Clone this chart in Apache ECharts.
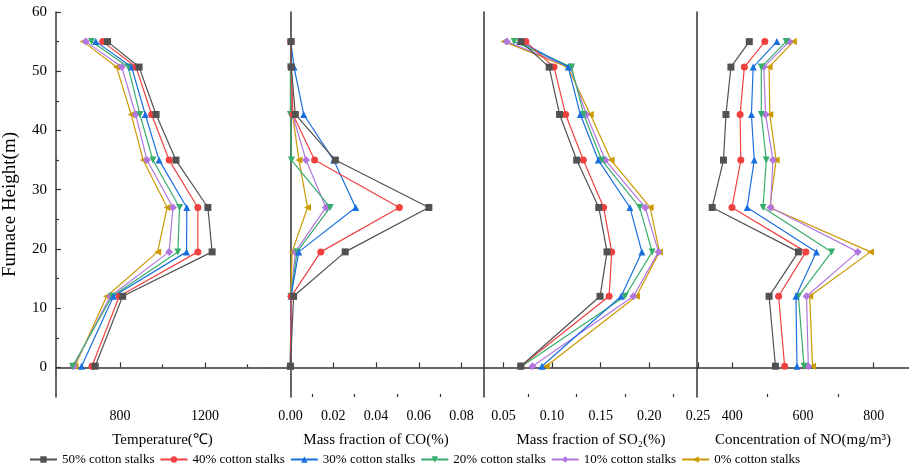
<!DOCTYPE html>
<html>
<head>
<meta charset="utf-8">
<script src="https://cdn.jsdelivr.net/npm/echarts@6/dist/echarts.min.js"></script>
<style>
  html, body { margin: 0; padding: 0; background: #fff; }
  #chart { width: 909px; height: 468px; }
</style>
</head>
<body>
<div id="chart"></div>
<script>
// 各测点高度 (m)
const heights = [55, 50.7, 42.7, 35, 27, 19.5, 12, 0.2];
const seriesNames = ['50% cotton stalks', '40% cotton stalks', '30% cotton stalks',
  '20% cotton stalks', '10% cotton stalks', '0% cotton stalks'];

// 每行一个工况, 顺序同 heights
const temperature = [
  [742, 890, 970, 1063, 1213, 1233, 813, 684],
  [719, 876, 949, 1031, 1166, 1166, 797, 669],
  [687, 855, 919, 984, 1114, 1113, 770, 620],
  [667, 839, 894, 955, 1080, 1072, 763, 578],
  [640, 809, 874, 927, 1049, 1031, 755, 583],
  [628, 784, 853, 909, 1022, 977, 738, 589]
];
const coFraction = [
  [0.0003, 0.0004, 0.0023, 0.0210, 0.0647, 0.0256, 0.0015, 0],
  [0.0002, 0.0003, 0.0012, 0.0113, 0.0509, 0.0142, 0.0004, 0],
  [0.0002, 0.0017, 0.0062, 0.0202, 0.0305, 0.0039, 0.0003, 0],
  [0.0001, 0.0000, 0.0000, 0.0005, 0.0186, 0.0031, 0.0002, 0],
  [0.0002, 0.0003, 0.0010, 0.0073, 0.0166, 0.0023, 0.0003, 0],
  [0.0002, 0.0003, 0.0010, 0.0040, 0.0080, 0.0008, 0.0002, 0]
];
const so2Fraction = [
  [0.068, 0.097, 0.1077, 0.1253, 0.148, 0.1565, 0.1493, 0.0678],
  [0.073, 0.102, 0.1139, 0.1321, 0.153, 0.1613, 0.1586, 0.0678],
  [0.067, 0.1166, 0.129, 0.1475, 0.180, 0.1923, 0.171, 0.0895],
  [0.061, 0.120, 0.1325, 0.151, 0.190, 0.2029, 0.175, 0.0689],
  [0.0534, 0.1187, 0.1352, 0.1547, 0.1957, 0.2094, 0.1836, 0.0799],
  [0.0506, 0.116, 0.1393, 0.1606, 0.2008, 0.2104, 0.1867, 0.0939]
];
const noConc = [
  [448, 396, 382, 375, 343, 587, 504, 522],
  [492, 434, 422, 424, 399, 608, 531, 548],
  [526, 459, 454, 462, 442, 638, 580, 583],
  [552, 482, 482, 496, 487, 681, 587, 603],
  [561, 489, 494, 515, 508, 755, 610, 615],
  [573, 504, 506, 524, 506, 791, 619, 627]
];

// 刻度
const heightTicks = [0, 10, 20, 30, 40, 50, 60];
const heightMinorTicks = [5, 15, 25, 35, 45, 55];
const tempTicks = [800, 1200];
const tempMinorTicks = [600, 1000, 1400];
const coTicks = [0, 0.02, 0.04, 0.06, 0.08];
const coMinorTicks = [0.01, 0.03, 0.05, 0.07];
const so2Ticks = [0.05, 0.10, 0.15, 0.20, 0.25];
const so2MinorTicks = [0.075, 0.125, 0.175, 0.225];
const noTicks = [400, 600, 800];
const noMinorTicks = [500, 700];

const colors = ['#515151', '#F14040', '#1A6FDF', '#37AD6B', '#B177DE', '#CC9900'];
const symbols = ['rect', 'circle', 'triangle', 'triangle', 'diamond', 'triangle'];
const symbolRotates = [0, 0, 0, 180, 0, 90];

const font = 'Liberation Serif, Times New Roman, serif';
const axisColor = '#333';

const panels = [
  { data: temperature, min: 500, max: 1500, ticks: tempTicks, minor: tempMinorTicks,
    name: 'Temperature(℃)', fmt: (v) => String(v) },
  { data: coFraction, min: -0.01, max: 0.09, ticks: coTicks, minor: coMinorTicks,
    name: 'Mass fraction of CO(%)', fmt: (v) => v.toFixed(2) },
  { data: so2Fraction, min: 0.03, max: 0.25, ticks: so2Ticks, minor: so2MinorTicks,
    name: 'Mass fraction of SO₂(%)', fmt: (v) => v.toFixed(2) },
  { data: noConc, min: 300, max: 900, ticks: noTicks, minor: noMinorTicks,
    name: 'Concentration of NO(mg/m³)', fmt: (v) => String(v) }
];

const gridLefts = [55, 269, 484, 697];
const gridWidth = 214;

const grid = gridLefts.map((l) => ({ left: l, top: 12, width: gridWidth, height: 385 }));

const xAxis = [];
const yAxis = [];
const series = [];

panels.forEach((p, i) => {
  // 主刻度轴
  xAxis.push({
    type: 'value', gridIndex: i, position: 'bottom', min: p.min, max: p.max,
    name: p.name, nameLocation: 'middle', nameGap: 36,
    nameTextStyle: { fontFamily: font, fontSize: 15, color: '#000' },
    axisLine: { show: true, lineStyle: { color: axisColor, width: 1.5 } },
    axisTick: { show: true, inside: true, length: 5, customValues: p.ticks,
      lineStyle: { color: axisColor, width: 1.2 } },
    axisLabel: { customValues: p.ticks, formatter: p.fmt, margin: 12,
      fontFamily: font, fontSize: 14, color: '#000' },
    splitLine: { show: false }
  });
  // 次刻度轴
  xAxis.push({
    type: 'value', gridIndex: i, position: 'bottom', min: p.min, max: p.max,
    axisLine: { show: false },
    axisTick: { show: true, inside: true, length: 3, customValues: p.minor,
      lineStyle: { color: axisColor, width: 1.2 } },
    axisLabel: { show: false },
    splitLine: { show: false }
  });
  yAxis.push({
    type: 'value', gridIndex: i, position: 'left', min: -5, max: 60,
    name: i === 0 ? 'Furnace Height(m)' : '',
    nameLocation: 'middle', nameGap: 36,
    nameTextStyle: { fontFamily: font, fontSize: 19, color: '#000' },
    axisLine: { show: true, lineStyle: { color: axisColor, width: 1.5 } },
    axisTick: { show: i === 0, inside: true, length: 5, customValues: heightTicks,
      lineStyle: { color: axisColor, width: 1.2 } },
    axisLabel: { show: i === 0, customValues: heightTicks, margin: 9,
      fontFamily: font, fontSize: 15, color: '#000' },
    splitLine: { show: false }
  });
  p.data.forEach((vals, s) => {
    series.push({
      name: seriesNames[s],
      type: 'line',
      xAxisIndex: i * 2,
      yAxisIndex: i,
      data: vals.map((v, k) => [v, heights[k]]),
      symbol: symbols[s],
      symbolRotate: symbolRotates[s],
      symbolSize: s === 4 ? 8 : 7,
      showAllSymbol: true,
      lineStyle: { width: 1.2, color: colors[s] },
      itemStyle: { color: colors[s] },
      z: 10 - s
    });
  });
});

// 高度次刻度
yAxis.push({
  type: 'value', gridIndex: 0, position: 'left', min: -5, max: 60,
  axisLine: { show: false },
  axisTick: { show: true, inside: true, length: 3, customValues: heightMinorTicks,
    lineStyle: { color: axisColor, width: 1.2 } },
  axisLabel: { show: false },
  splitLine: { show: false }
});

const myChart = echarts.init(document.getElementById('chart'), null, { renderer: 'canvas' });
myChart.setOption({
  backgroundColor: '#fff',
  animation: false,
  grid: grid,
  xAxis: xAxis,
  yAxis: yAxis,
  legend: {
    data: seriesNames,
    left: 24,
    top: 448,
    itemWidth: 27,
    itemHeight: 8,
    itemGap: 5,
    textStyle: { fontFamily: font, fontSize: 13, color: '#000' }
  },
  series: series
});
</script>
</body>
</html>
